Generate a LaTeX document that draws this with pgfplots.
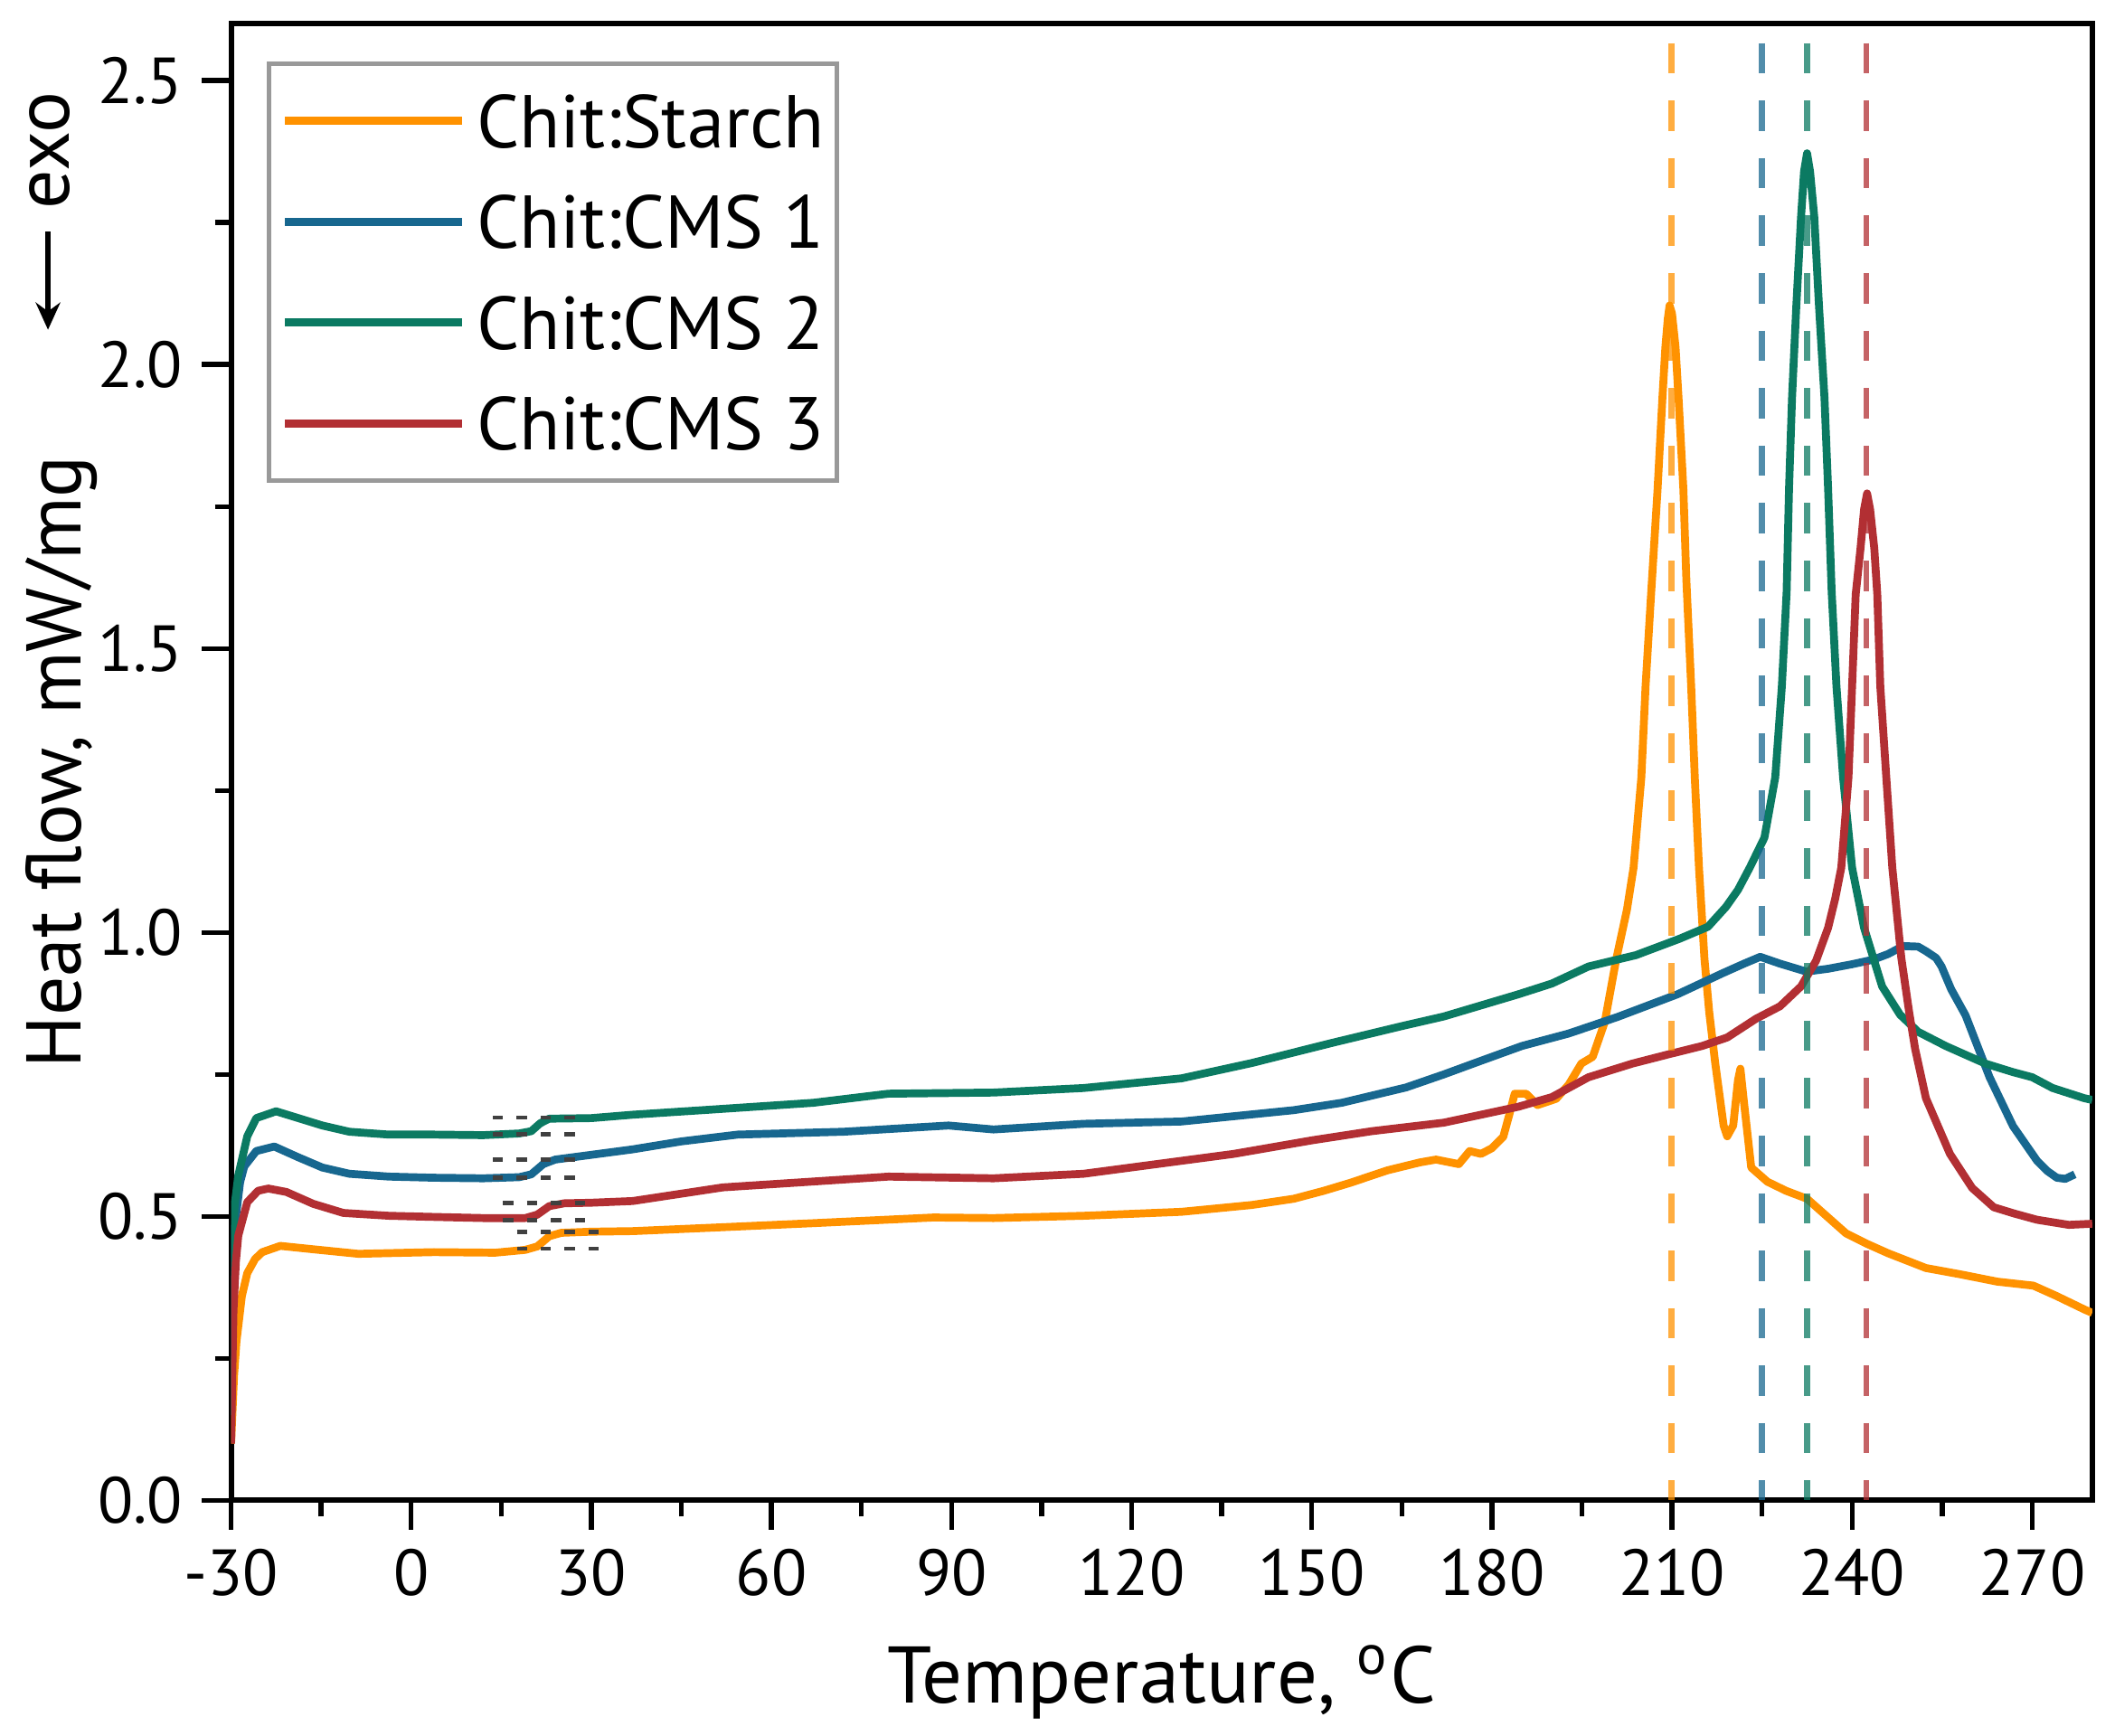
\documentclass[border=0pt]{standalone}
\usepackage{fontspec}
\setmainfont{PT Sans}
\usepackage{pgfplots}
\pgfplotsset{compat=1.18}
\usetikzlibrary{arrows.meta}
\definecolor{cOrange}{RGB}{255,146,0}
\definecolor{cBlue}{RGB}{23,103,143}
\definecolor{cGreen}{RGB}{11,122,98}
\definecolor{cRed}{RGB}{178,47,51}
\begin{document}
\begin{tikzpicture}
\useasboundingbox (-42.6pt,-43.4pt) rectangle (347.3pt,276.6pt);
\begin{axis}[
  at={(0pt,0pt)}, anchor=south west,
  scale only axis, width=343.1pt, height=272.2pt,
  xmin=-30, xmax=280, ymin=0, ymax=2.6,
  xtick={-30,0,...,270}, ytick={0,0.5,...,2.5},
  minor x tick num=1, minor y tick num=1,
  xtick pos=left, ytick pos=left,
  tick align=outside,
  major tick length=5.4pt, minor tick length=3pt,
  axis line style={line width=1pt},
  major tick style={line width=0.9pt, black},
  minor tick style={line width=0.9pt, black},
  /pgf/number format/assume math mode=true,
  tick label style={font=\fontsize{12}{14}\selectfont},
  yticklabel style={/pgf/number format/fixed, /pgf/number format/fixed zerofill, /pgf/number format/precision=1},
  xlabel={Temperature, \textsuperscript{o}C},
  ylabel={Heat flow, mW/mg},
  label style={font=\fontsize{14.3}{17}\selectfont},
  xlabel style={at={(axis description cs:0.5,-0.137)}, anchor=base, font=\fontsize{14.8}{17}\selectfont},
  ylabel style={at={(axis description cs:-0.0912,0.5)}, anchor=center},
  legend style={at={(axis description cs:0.0192,0.9743)}, anchor=north west,
    draw=black!40, line width=0.8pt, fill=white, inner xsep=2.2pt, inner ysep=5.6pt,
    font=\fontsize{13.8}{16}\selectfont,
    nodes={inner sep=0pt, text height=9.8pt, text depth=0pt},
    row sep=8.8pt, cells={anchor=west}},
  legend image code/.code={\draw[#1, line width=1.5pt] (0pt,0pt) -- (32.6pt,0pt); \path (34.6pt,0pt);},
  every axis plot/.append style={line width=1.45pt, line join=round},
]
% Chit:Starch
\addplot[cOrange] coordinates {
(-30,0.10) (-29.5,0.22) (-29.1,0.28) (-28.2,0.36) (-27.3,0.40) (-26,0.425) (-24.8,0.437)
(-21.8,0.448) (-16.3,0.442) (-8.8,0.434) (3.8,0.437) (14,0.436) (19,0.441) (21,0.447)
(23,0.465) (25,0.471) (30,0.473) (36.9,0.474) (50,0.480) (67,0.488) (87,0.498) (97,0.497)
(112,0.501) (128.3,0.508) (140,0.52) (147,0.531) (152,0.545) (156.4,0.559) (162.6,0.581)
(168,0.595) (170.7,0.60) (174.5,0.592) (176.3,0.615) (178.2,0.61) (180,0.62) (181.9,0.64)
(182.9,0.679) (183.8,0.716) (185.7,0.716) (187.6,0.696) (190.7,0.707) (192.8,0.732)
(194.9,0.769) (196.8,0.781) (198.8,0.842) (200.7,0.952) (202.5,1.04) (203.6,1.114)
(204.9,1.273) (205.6,1.433) (206.5,1.592) (207.6,1.78) (208.4,1.94) (208.9,2.03)
(209.3,2.08) (209.6,2.104) (210.0,2.09) (210.6,2.03) (211.1,1.94) (211.9,1.78) (212.4,1.62)
(213.2,1.433) (213.8,1.273) (214.5,1.114) (215.4,0.955) (216.2,0.86) (217.2,0.77)
(218.6,0.66) (219.2,0.641) (220.2,0.66) (221.0,0.74) (221.4,0.760) (222.0,0.70)
(223.2,0.586) (225.9,0.561) (229,0.545) (232.5,0.531) (235.8,0.50) (239,0.47) (242.4,0.452)
(246,0.435) (252.3,0.409) (258,0.398) (264.2,0.385) (270.2,0.378) (274,0.36) (278.7,0.336)
(280,0.33)
};
\addlegendentry{Chit:Starch}
% Chit:CMS 1
\addplot[cBlue] coordinates {
(-30,0.15) (-29.7,0.35) (-29.3,0.49) (-28.5,0.56) (-27.8,0.588) (-25.8,0.615) (-22.8,0.623)
(-18.8,0.604) (-14.8,0.586) (-10.3,0.575) (-3.7,0.570) (3.8,0.568) (12,0.567) (18,0.569)
(20,0.574) (22,0.592) (24,0.600) (27.6,0.605) (36.9,0.618) (45,0.632) (54.4,0.644)
(72,0.649) (89.5,0.66) (97,0.653) (112,0.663) (128.3,0.667) (147,0.687) (155,0.70)
(165.7,0.727) (172,0.75) (178.2,0.774) (185,0.80) (192.8,0.822) (200.9,0.851)
(210.9,0.891) (218.4,0.928) (222,0.945) (224.7,0.957) (228,0.945) (232.4,0.931)
(236.0,0.936) (240,0.944) (243.5,0.952) (246,0.962) (248.5,0.976) (251,0.975) (252.3,0.967)
(254,0.955) (254.9,0.94) (256.5,0.90) (258.9,0.854) (262.9,0.745) (266.8,0.659)
(270.8,0.598) (272.5,0.58) (274.1,0.568) (275.5,0.566) (277.1,0.574)
};
\addlegendentry{Chit:CMS 1}
% Chit:CMS 2
\addplot[cGreen] coordinates {
(-30,0.15) (-29.9,0.41) (-29.4,0.52) (-28.8,0.572) (-27.3,0.641) (-25.8,0.673) (-22.5,0.685)
(-18.8,0.673) (-14.8,0.66) (-10.3,0.649) (-3.7,0.644) (3.8,0.644) (12,0.643) (18,0.646)
(20,0.650) (21.5,0.664) (23,0.672) (30,0.673) (36.9,0.679) (50,0.688) (67,0.700)
(79.5,0.716) (97,0.718) (112,0.726) (128.3,0.743) (140,0.77) (153.2,0.805) (165,0.835)
(172,0.852) (184.4,0.891) (190,0.91) (196.1,0.94) (204,0.96) (211.3,0.989) (216,1.01)
(219,1.045) (221,1.075) (223,1.115) (225.4,1.167) (226.3,1.22) (227.2,1.273) (228.3,1.433)
(229.1,1.60) (229.5,1.783) (230.0,1.942) (230.7,2.101) (231.5,2.26) (232.0,2.34)
(232.5,2.372) (233.0,2.34) (233.7,2.26) (234.5,2.101) (235.4,1.942) (236.0,1.783)
(236.6,1.60) (237.4,1.433) (238.5,1.273) (240.0,1.114) (242.0,1.008) (245.0,0.905)
(248,0.855) (251.0,0.825) (255.6,0.80) (262.2,0.769) (266.8,0.754) (270,0.745)
(273.4,0.726) (278.7,0.708) (280,0.705)
};
\addlegendentry{Chit:CMS 2}
% Chit:CMS 3
\addplot[cRed] coordinates {
(-30,0.10) (-29.8,0.22) (-29.6,0.334) (-29.2,0.42) (-28.8,0.466) (-27.3,0.525) (-25.5,0.545)
(-23.8,0.549) (-20.8,0.543) (-16.3,0.522) (-11.3,0.506) (-3.7,0.501) (3.8,0.499) (12,0.497)
(19,0.497) (21,0.503) (23,0.518) (25.5,0.523) (30,0.524) (36.9,0.527) (51.9,0.551)
(65,0.56) (79.5,0.570) (97,0.567) (112,0.575) (122,0.589) (137,0.61) (150.1,0.634)
(160,0.65) (172,0.665) (184.4,0.693) (190,0.71) (196.1,0.745) (203.4,0.769) (209.3,0.785)
(215,0.80) (219.2,0.815) (224,0.848) (228,0.87) (231.5,0.905) (234,0.95) (236,1.008)
(237.2,1.06) (238.2,1.114) (239.4,1.273) (240.0,1.433) (240.6,1.595) (241.4,1.676)
(242.0,1.745) (242.5,1.773) (243.0,1.745) (243.7,1.676) (244.2,1.595) (244.7,1.433)
(245.7,1.273) (246.7,1.114) (248.2,0.955) (249.5,0.86) (250.5,0.795) (252.3,0.708)
(256.3,0.61) (260,0.55) (263.6,0.516) (267,0.505) (270.8,0.494) (276.1,0.485) (280,0.487)
};
\addlegendentry{Chit:CMS 3}
% peak markers
\addplot[cOrange, opacity=0.75, line width=1.1pt, dash pattern=on 5.6pt off 5pt, forget plot] coordinates {(209.9,2.566) (209.9,0)};
\addplot[cBlue, opacity=0.75, line width=1.1pt, dash pattern=on 5.6pt off 5pt, forget plot] coordinates {(225.0,2.566) (225.0,0)};
\addplot[cGreen, opacity=0.75, line width=1.1pt, dash pattern=on 5.6pt off 5pt, forget plot] coordinates {(232.5,2.566) (232.5,0)};
\addplot[cRed, opacity=0.75, line width=1.1pt, dash pattern=on 5.6pt off 5pt, forget plot] coordinates {(242.4,2.566) (242.4,0)};
% glass transition guides
\addplot[black!75, line width=0.8pt, dash pattern=on 1.9pt off 2.5pt, forget plot] coordinates {(13.6,0.674) (28.6,0.674)};
\addplot[black!75, line width=0.8pt, dash pattern=on 1.9pt off 2.5pt, forget plot] coordinates {(13.6,0.645) (28.6,0.645)};
\addplot[black!75, line width=0.8pt, dash pattern=on 1.9pt off 2.5pt, forget plot] coordinates {(13.6,0.600) (28.6,0.600)};
\addplot[black!75, line width=0.8pt, dash pattern=on 1.9pt off 2.5pt, forget plot] coordinates {(13.6,0.568) (28.6,0.568)};
\addplot[black!75, line width=0.8pt, dash pattern=on 1.9pt off 2.5pt, forget plot] coordinates {(15.3,0.523) (30.2,0.523)};
\addplot[black!75, line width=0.8pt, dash pattern=on 1.9pt off 2.5pt, forget plot] coordinates {(15.3,0.493) (30.2,0.493)};
\addplot[black!75, line width=0.8pt, dash pattern=on 1.9pt off 2.5pt, forget plot] coordinates {(17.6,0.472) (32.3,0.472)};
\addplot[black!75, line width=0.8pt, dash pattern=on 1.9pt off 2.5pt, forget plot] coordinates {(17.6,0.443) (32.3,0.443)};
\end{axis}
\node[rotate=90, font=\fontsize{14.3}{17}\selectfont] at (-33.5pt,248.8pt) {exo};
\draw[line width=1pt, -{Stealth[length=5pt,width=4.5pt]}] (-33.75pt,233.9pt) -- (-33.75pt,215.8pt);
\end{tikzpicture}
\end{document}
